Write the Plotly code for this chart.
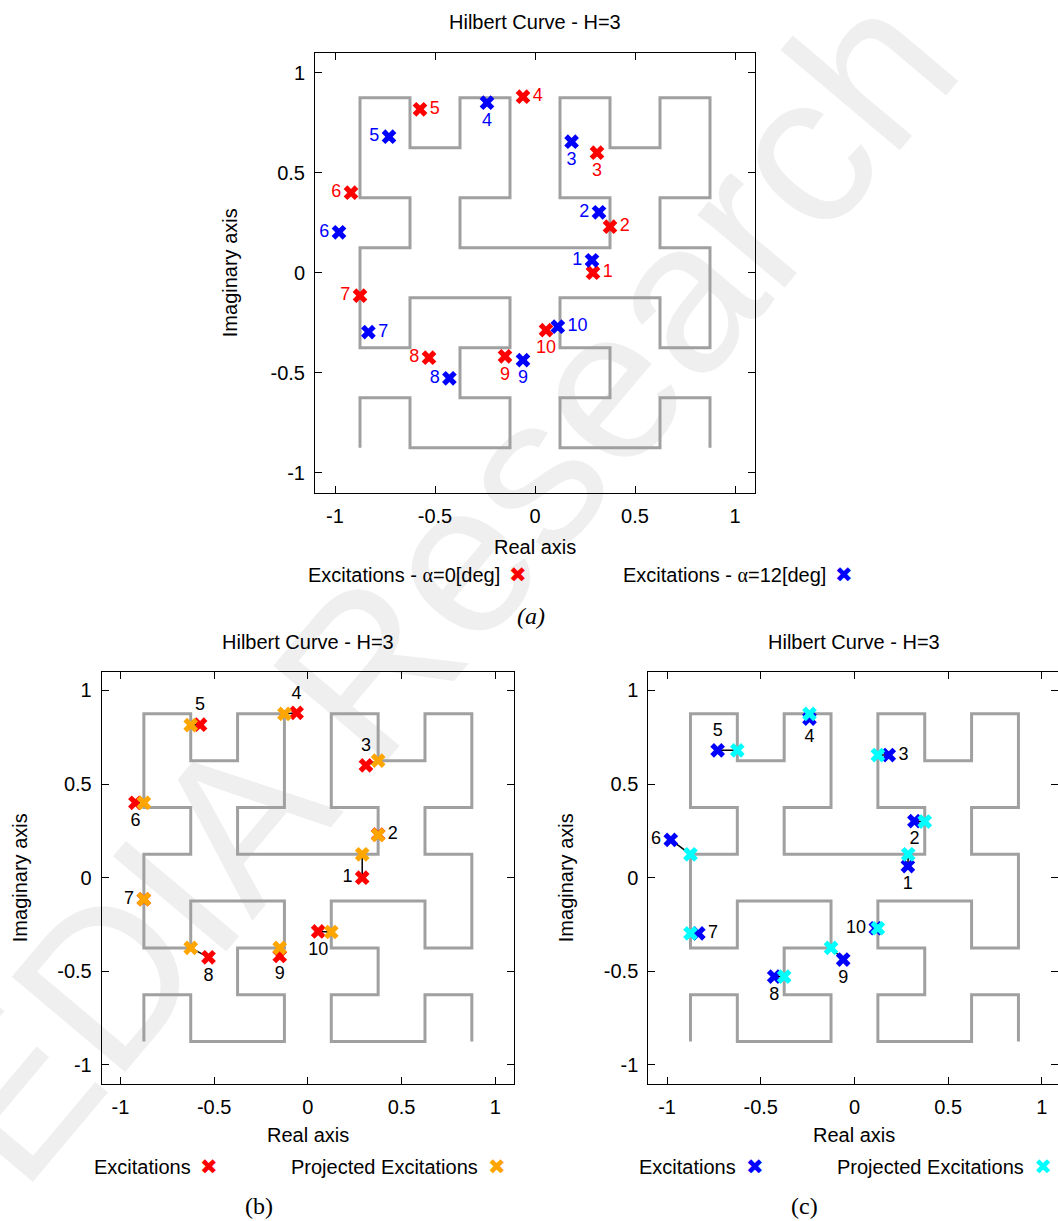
import plotly.graph_objects as go

W, H = 1058, 1221

# ---------------- data ----------------
HILBERT_X = [
    -0.875, -0.875, -0.625, -0.625, -0.375, -0.125, -0.125, -0.375,
    -0.375, -0.125, -0.125, -0.375, -0.625, -0.625, -0.875, -0.875,
    -0.875, -0.625, -0.625, -0.875, -0.875, -0.875, -0.625, -0.625,
    -0.375, -0.375, -0.125, -0.125, -0.125, -0.375, -0.375, -0.125,
    0.125, 0.375, 0.375, 0.125, 0.125, 0.125, 0.375, 0.375,
    0.625, 0.625, 0.875, 0.875, 0.875, 0.625, 0.625, 0.875,
    0.875, 0.875, 0.625, 0.625, 0.375, 0.125, 0.125, 0.375,
    0.375, 0.125, 0.125, 0.375, 0.625, 0.625, 0.875, 0.875,
]
HILBERT_Y = [
    -0.875, -0.625, -0.625, -0.875, -0.875, -0.875, -0.625, -0.625,
    -0.375, -0.375, -0.125, -0.125, -0.125, -0.375, -0.375, -0.125,
    0.125, 0.125, 0.375, 0.375, 0.625, 0.875, 0.875, 0.625,
    0.625, 0.875, 0.875, 0.625, 0.375, 0.375, 0.125, 0.125,
    0.125, 0.125, 0.375, 0.375, 0.625, 0.875, 0.875, 0.625,
    0.625, 0.875, 0.875, 0.625, 0.375, 0.375, 0.125, 0.125,
    -0.125, -0.375, -0.375, -0.125, -0.125, -0.125, -0.375, -0.375,
    -0.625, -0.625, -0.875, -0.875, -0.875, -0.625, -0.625, -0.875,
]

POINT_LABELS = ["1", "2", "3", "4", "5", "6", "7", "8", "9", "10"]

# Excitations, alpha = 0 deg
EXC_X = [0.29, 0.375, 0.31, -0.06, -0.575, -0.92, -0.875, -0.53, -0.15, 0.055]
EXC_Y = [0.0, 0.23, 0.60, 0.88, 0.817, 0.40, -0.115, -0.425, -0.418, -0.287]
# Excitations, alpha = 12 deg
EXC12_X = [0.285, 0.32, 0.183, -0.24, -0.73, -0.98, -0.833, -0.428, -0.06, 0.114]
EXC12_Y = [0.062, 0.302, 0.655, 0.85, 0.68, 0.202, -0.297, -0.528, -0.437, -0.27]
# Projected excitations (alpha = 0)
PROJ_X = [0.29, 0.375, 0.375, -0.125, -0.625, -0.875, -0.875, -0.625, -0.15, 0.125]
PROJ_Y = [0.125, 0.228, 0.625, 0.875, 0.815, 0.40, -0.115, -0.375, -0.375, -0.29]
# Projected excitations (alpha = 12)
PROJ12_X = [0.287, 0.375, 0.125, -0.24, -0.625, -0.875, -0.875, -0.375, -0.125, 0.125]
PROJ12_Y = [0.125, 0.30, 0.655, 0.875, 0.68, 0.125, -0.297, -0.528, -0.375, -0.27]

TICK_VALS = [-1, -0.5, 0, 0.5, 1]
TICK_TEXT = ["-1", "-0.5", "0", "0.5", "1"]

TITLE = "Hilbert Curve - H=3"

# ---------------- style ----------------
SANS = "Liberation Sans, Arial, Helvetica, sans-serif"
SERIF = "Liberation Serif, Times New Roman, serif"
RED, BLUE, ORANGE, CYAN = "#ff0000", "#0000ff", "#ffa500", "#00ffff"
CURVE = "#a0a0a0"
MSIZE = 13

POS_A_RED = ["middle right", "middle right", "bottom center", "middle right", "middle right",
             "middle left", "middle left", "middle left", "bottom center", "bottom center"]
POS_A_BLUE = ["middle left", "middle left", "bottom center", "bottom center", "middle left",
              "middle left", "middle right", "middle left", "bottom center", "middle right"]
POS_B = ["middle left", "middle right", "top center", "top center", "top center",
         "bottom center", "middle left", "bottom center", "bottom center", "bottom center"]
POS_C = ["bottom center", "bottom center", "middle right", "bottom center", "top center",
         "middle left", "middle right", "bottom center", "bottom center", "middle left"]


def px_x(p):
    return p / W


def px_y(p):
    return 1 - p / H


fig = go.Figure()


def add_curve(xa, ya):
    fig.add_trace(go.Scatter(x=HILBERT_X, y=HILBERT_Y, mode="lines",
                             line=dict(color=CURVE, width=3),
                             xaxis=xa, yaxis=ya, showlegend=False, hoverinfo="skip"))


def add_connectors(x0, y0, x1, y1, xa, ya):
    xs, ys = [], []
    for a, b, c, d in zip(x0, y0, x1, y1):
        xs += [a, c, None]
        ys += [b, d, None]
    fig.add_trace(go.Scatter(x=xs, y=ys, mode="lines", line=dict(color="black", width=1.5),
                             xaxis=xa, yaxis=ya, showlegend=False, hoverinfo="skip"))


def add_markers(x, y, color, xa, ya, name):
    fig.add_trace(go.Scatter(x=x, y=y, mode="markers", name=name,
                             marker=dict(symbol="x", size=MSIZE, color=color, line=dict(width=0)),
                             xaxis=xa, yaxis=ya, showlegend=False))


def add_labels(x, y, pos, color, xa, ya):
    # invisible markers give the labels their offset from the points
    fig.add_trace(go.Scatter(x=x, y=y, mode="markers+text", text=POINT_LABELS, textposition=pos,
                             marker=dict(size=MSIZE + 1, color="rgba(0,0,0,0)"),
                             textfont=dict(family=SANS, size=18, color=color),
                             xaxis=xa, yaxis=ya, showlegend=False, hoverinfo="skip"))


# (a)
add_curve("x", "y")
add_markers(EXC_X, EXC_Y, RED, "x", "y", "Excitations - α=0[deg]")
add_markers(EXC12_X, EXC12_Y, BLUE, "x", "y", "Excitations - α=12[deg]")
add_labels(EXC_X, EXC_Y, POS_A_RED, RED, "x", "y")
add_labels(EXC12_X, EXC12_Y, POS_A_BLUE, BLUE, "x", "y")

# (b)
add_curve("x2", "y2")
add_connectors(EXC_X, EXC_Y, PROJ_X, PROJ_Y, "x2", "y2")
add_markers(EXC_X, EXC_Y, RED, "x2", "y2", "Excitations")
add_markers(PROJ_X, PROJ_Y, ORANGE, "x2", "y2", "Projected Excitations")
add_labels(EXC_X, EXC_Y, POS_B, "black", "x2", "y2")

# (c)
add_curve("x3", "y3")
add_connectors(EXC12_X, EXC12_Y, PROJ12_X, PROJ12_Y, "x3", "y3")
add_markers(EXC12_X, EXC12_Y, BLUE, "x3", "y3", "Excitations")
add_markers(PROJ12_X, PROJ12_Y, CYAN, "x3", "y3", "Projected Excitations")
add_labels(EXC12_X, EXC12_Y, POS_C, "black", "x3", "y3")

ax_common = dict(showline=True, linecolor="black", linewidth=1, mirror="allticks",
                 ticks="inside", ticklen=7, tickwidth=1, tickcolor="black",
                 showgrid=False, zeroline=False, tickvals=TICK_VALS, ticktext=TICK_TEXT,
                 tickfont=dict(family=SANS, size=20, color="black"), fixedrange=True,
                 ticklabelstandoff=5)

SCALE = (514.0 - 101.7) / 2.2  # px per unit for lower plots

fig.update_layout(
    width=W, height=H, autosize=False,
    margin=dict(l=0, r=0, t=0, b=0),
    paper_bgcolor="white", plot_bgcolor="rgba(0,0,0,0)",
    showlegend=False,
    xaxis=dict(domain=[px_x(315), px_x(755)], range=[-1.1, 1.1], anchor="y", **ax_common),
    yaxis=dict(domain=[px_y(492.7), px_y(52.7)], range=[-1.1, 1.1], anchor="x", **ax_common),
    xaxis2=dict(domain=[px_x(101.7), px_x(514)], range=[-1.1, 1.1], anchor="y2", **ax_common),
    yaxis2=dict(domain=[px_y(1083.7), px_y(671.7)], range=[-1.1, 1.1], anchor="x2", **ax_common),
    xaxis3=dict(domain=[px_x(648.3), 1.0], range=[-1.1, -1.1 + (W - 648.3) / SCALE],
                anchor="y3", **ax_common),
    yaxis3=dict(domain=[px_y(1083.7), px_y(671.7)], range=[-1.1, 1.1], anchor="x3", **ax_common),
)

ann = []


def text_at(x, y, text, size=20, xanchor="center", color="black", family=SANS, angle=0, italic=False):
    t = "<i>%s</i>" % text if italic else text
    ann.append(dict(x=px_x(x), y=px_y(y), xref="paper", yref="paper", text=t, showarrow=False,
                    xanchor=xanchor, yanchor="middle", textangle=angle,
                    font=dict(family=family, size=size, color=color)))


# titles
text_at(535, 22, TITLE)
text_at(308, 641.5, TITLE)
text_at(854, 641.5, TITLE)
# axis titles
text_at(535, 546.5, "Real axis")
text_at(308, 1135, "Real axis")
text_at(854, 1135, "Real axis")
text_at(229.5, 272.7, "Imaginary axis", angle=-90)
text_at(19.5, 877.7, "Imaginary axis", angle=-90)
text_at(565.5, 877.7, "Imaginary axis", angle=-90)
# legends
LEG_X = "✖"
LEG_SIZE = 21
text_at(501.5, 575.5, "Excitations - <span style='font-family:Liberation Serif'>α</span>=0[deg]", xanchor="right")
text_at(518, 575.5, LEG_X, size=LEG_SIZE, color=RED, family="DejaVu Sans")
text_at(827.5, 575.5, "Excitations - <span style='font-family:Liberation Serif'>α</span>=12[deg]", xanchor="right")
text_at(844, 575.5, LEG_X, size=LEG_SIZE, color=BLUE, family="DejaVu Sans")
text_at(192.7, 1167, "Excitations", xanchor="right")
text_at(209, 1167, LEG_X, size=LEG_SIZE, color=RED, family="DejaVu Sans")
text_at(480, 1167, "Projected Excitations", xanchor="right")
text_at(497.3, 1167, LEG_X, size=LEG_SIZE, color=ORANGE, family="DejaVu Sans")
text_at(738.3, 1167, "Excitations", xanchor="right")
text_at(755, 1167, LEG_X, size=LEG_SIZE, color=BLUE, family="DejaVu Sans")
text_at(1026, 1167, "Projected Excitations", xanchor="right")
text_at(1043.3, 1167, LEG_X, size=LEG_SIZE, color=CYAN, family="DejaVu Sans")
# captions
text_at(531, 616, "(a)", size=24, family=SERIF, italic=True)
text_at(259, 1206, "(b)", size=24, family=SERIF)
text_at(804, 1206, "(c)", size=24, family=SERIF)

fig.update_layout(annotations=ann)

# watermark (behind the plots)
fig.add_shape(type="line", xref="paper", yref="paper",
              x0=px_x(100), y0=px_y(955), x1=px_x(744), y1=px_y(189),
              line=dict(width=1, color="rgba(0,0,0,0)"), layer="below",
              label=dict(text="EDIA Research", textposition="middle", yanchor="middle",
                         font=dict(family=SANS, size=215, color="#efefef")))

fig.write_html("out.html")
